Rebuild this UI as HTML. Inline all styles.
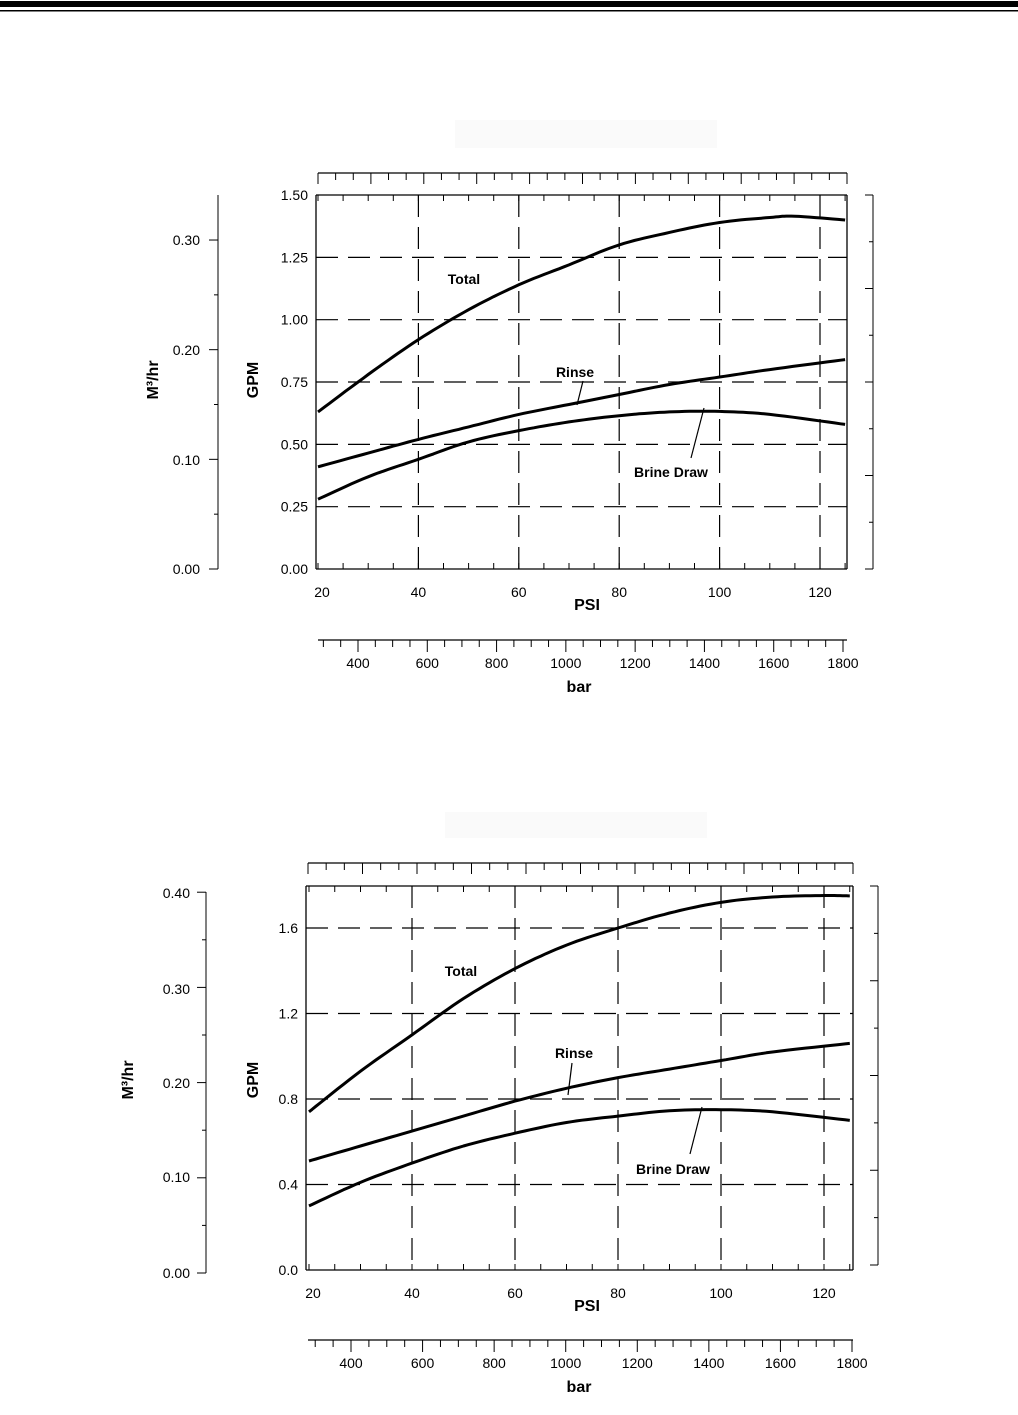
<!DOCTYPE html>
<html><head><meta charset="utf-8"><style>
html,body{margin:0;padding:0;background:#fff}
svg{display:block}
text{font-family:"Liberation Sans",Arial,sans-serif;fill:#000}
</style></head><body>
<svg id="s" width="1018" height="1415" viewBox="0 0 1018 1415" xmlns="http://www.w3.org/2000/svg">
<rect x="0" y="0" width="1018" height="1415" fill="#fff"/>
<rect x="0" y="1" width="1018" height="6" fill="#000"/>
<rect x="0" y="10" width="1018" height="1.5" fill="#000"/>
<rect x="455" y="120" width="262" height="28" fill="#fafafa"/>
<rect x="445" y="812" width="262" height="26" fill="#fafafa"/>
<g id="g"></g>
</svg>
<script>
var NS="http://www.w3.org/2000/svg",G=document.getElementById("g");
function el(t,a,txt){var e=document.createElementNS(NS,t);for(var k in a)e.setAttribute(k,a[k]);if(txt!=null)e.textContent=txt;G.appendChild(e);return e;}
function ln(x1,y1,x2,y2,w,d){var a={x1:x1,y1:y1,x2:x2,y2:y2,stroke:"#000","stroke-width":w||1};if(d)a["stroke-dasharray"]=d;el("line",a);}
function tx(x,y,s,sz,anc,b){el("text",{x:x,y:y,"font-size":sz||13,"text-anchor":anc||"middle","font-weight":b?"bold":"normal"},s);}
function curve(pts,X,Y){var d="";for(var i=0;i<pts.length;i++){d+=(i?"L":"M")+X(pts[i][0]).toFixed(1)+","+Y(pts[i][1]).toFixed(1);}
 el("path",{d:d,fill:"none",stroke:"#000","stroke-width":3,"stroke-linejoin":"round"});}
function smooth(p){
 var out=[];for(var i=0;i<p.length-1;i++){var p0=p[Math.max(0,i-1)],p1=p[i],p2=p[i+1],p3=p[Math.min(p.length-1,i+2)];
 for(var t=0;t<1;t+=0.1){var t2=t*t,t3=t2*t;function f(a,b,c,d){return 0.5*((2*b)+(-a+c)*t+(2*a-5*b+4*c-d)*t2+(-a+3*b-3*c+d)*t3);}
 out.push([f(p0[0],p1[0],p2[0],p3[0]),f(p0[1],p1[1],p2[1],p3[1])]);}}out.push(p[p.length-1]);return out;}
function chart(c){
 var X=function(p){return c.x20+(p-20)*c.kx;},Y=function(v){return c.y0-v*c.ky;};
 ln(c.L,c.T,c.R,c.T,1.3);ln(c.L,c.B,c.R,c.B,1.3);ln(c.L,c.T,c.L,c.B,1.3);ln(c.R,c.T,c.R,c.B,1.3);
 for(var p=20;p<=125;p+=5){var x=X(p);ln(x,c.B,x,c.B-6,1);ln(x,c.T,x,c.T+6,1);}
 c.gy.forEach(function(v){ln(c.L,Y(v),c.R,Y(v),1.2,"22,10");tx(c.L-8,Y(v)+5,c.gl(v),14,"end");});
 tx(c.L-8,c.B+5,c.gl(0),14,"end");
 if(c.topLab) tx(c.L-8,c.T+5,c.topLab,14,"end");
 [40,60,80,100,120].forEach(function(p){ln(X(p),c.T,X(p),c.B,1.2,"22,10");});
 [20,40,60,80,100,120].forEach(function(p){tx(X(p)+(p==20?4:0),c.xly,String(p),14);});
 tx(587,c.xly+13,"PSI",16,"middle",1);
 ln(c.ax,c.at,c.ax,c.ab,1);
 for(var i=0;i<c.mn;i++){var y=c.ab-c.mstep*i;ln(c.ax-(i%2==0?9:4),y,c.ax,y,1);}
 el("text",{x:0,y:0,"font-size":16,"font-weight":"bold","text-anchor":"middle",transform:"translate("+c.mlx+","+c.mly+") rotate(-90)"},"M³/hr");
 el("text",{x:0,y:0,"font-size":16,"font-weight":"bold","text-anchor":"middle",transform:"translate("+c.glx+","+c.mly+") rotate(-90)"},"GPM");
 ln(c.rx,c.T,c.rx,c.rb,1);
 for(var i=0;i<=8;i++){var y=c.rb-(c.rb-c.T)*i/8;ln(c.rx,y,c.rx-(i%2==0?8:4),y,1);}
 ln(c.L+2,c.ts,c.R,c.ts,1.2);
 for(var i=0;i<=30;i++){var x=c.L+2+(c.R-c.L-2)*i/30;ln(x,c.ts,x,c.ts+(i%3==0?11:7),1);}
 ln(c.L+2,c.bs,c.R,c.bs,1.2);
 var b400=c.b400,b1800=c.b1800,kb=(b1800-b400)/1400;
 for(var v=300;v<=1800;v+=50){var x=b400+(v-400)*kb;if(x<c.L)continue;ln(x,c.bs,x,c.bs+(v%200==0?12:7),1);}
 for(var v=400;v<=1800;v+=200){tx(b400+(v-400)*kb,c.bs+28,String(v),14);}
 tx(579,c.bs+52,"bar",16,"middle",1);
 c.curves.forEach(function(cv){curve(smooth(cv),X,Y);});
 tx(c.tot[0],c.tot[1],"Total",14,"middle",1);
 tx(c.rin[0],c.rin[1],"Rinse",14,"middle",1);
 tx(c.bri[0],c.bri[1],"Brine Draw",14,"middle",1);
 ln(c.rl[0],c.rl[1],c.rl[2],c.rl[3],1.2);ln(c.bl[0],c.bl[1],c.bl[2],c.bl[3],1.2);
}
chart({L:316,R:847,T:195,B:569,x20:318,kx:5.02,y0:569,ky:249.3,
 gy:[0.25,0.5,0.75,1.0,1.25],gl:function(v){return v.toFixed(2);},topLab:"1.50",xly:597,
 ax:218,at:195,ab:569,mn:7,mstep:54.83,mlx:158,mly:380,glx:258,rx:873,rb:569,ts:173,bs:640,b400:358,b1800:843,
 curves:[[[20,0.63],[30,0.78],[40,0.92],[50,1.04],[60,1.14],[70,1.22],[80,1.30],[90,1.35],[100,1.39],[110,1.41],[115,1.415],[125,1.40]],
 [[20,0.41],[30,0.465],[40,0.52],[50,0.57],[60,0.62],[70,0.66],[80,0.70],[90,0.74],[100,0.77],[110,0.80],[125,0.84]],
 [[20,0.28],[30,0.37],[40,0.44],[50,0.51],[60,0.555],[70,0.59],[80,0.615],[90,0.63],[100,0.632],[110,0.62],[125,0.58]]],
 tot:[464,284],rin:[575,377],bri:[671,477],rl:[583,381,577,405],bl:[691,458,704,408]});
[["0.00",569],["0.10",460],["0.20",350],["0.30",240]].forEach(function(a){tx(200,a[1]+5,a[0],14,"end");});
chart({L:306,R:853,T:886,B:1270,x20:309,kx:5.15,y0:1270,ky:213.75,
 gy:[0.4,0.8,1.2,1.6],gl:function(v){return v.toFixed(1);},topLab:null,xly:1298,
 ax:206,at:892,ab:1273,mn:9,mstep:47.6,mlx:133,mly:1080,glx:258,rx:878,rb:1265,ts:863,bs:1340,b400:351,b1800:852,
 curves:[[[20,0.74],[30,0.93],[40,1.10],[50,1.27],[60,1.41],[70,1.52],[80,1.60],[90,1.67],[100,1.72],[110,1.745],[120,1.752],[125,1.75]],
 [[20,0.51],[30,0.58],[40,0.65],[50,0.72],[60,0.79],[70,0.85],[80,0.90],[90,0.94],[100,0.98],[110,1.02],[125,1.06]],
 [[20,0.30],[30,0.41],[40,0.50],[50,0.58],[60,0.64],[70,0.69],[80,0.72],[90,0.745],[100,0.75],[110,0.74],[125,0.70]]],
 tot:[461,976],rin:[574,1058],bri:[673,1174],rl:[572,1063,568,1095],bl:[690,1154,702,1107]});
[["0.00",1273],["0.10",1177],["0.20",1083],["0.30",989],["0.40",893]].forEach(function(a){tx(190,a[1]+5,a[0],14,"end");});
</script>
</body></html>
